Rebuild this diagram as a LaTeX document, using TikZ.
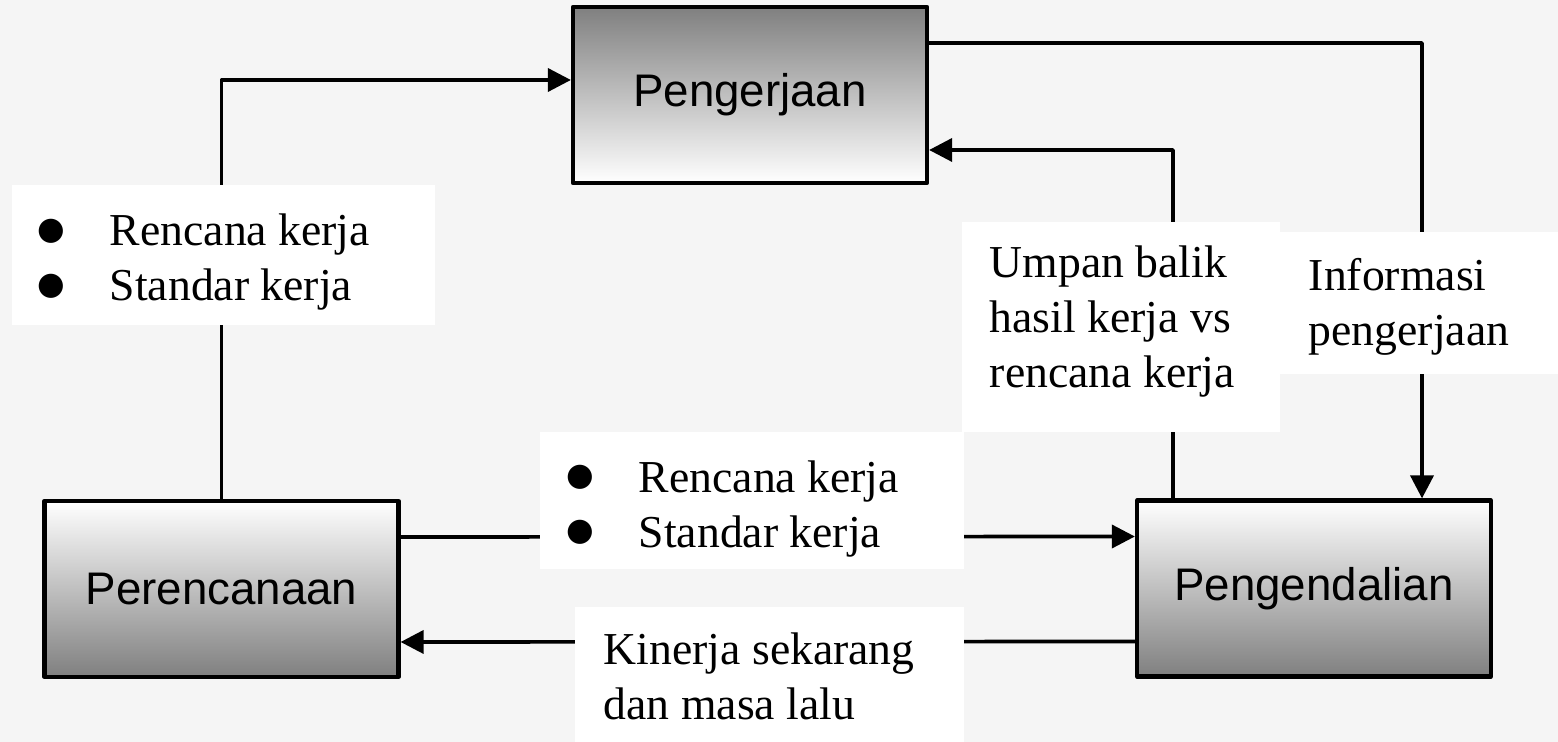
\documentclass[tikz,border=0pt]{standalone}
\usepackage{fontspec}
\setmainfont{Liberation Serif}
\newfontfamily\kotakfont{Liberation Sans}
\newfontfamily\simbolfont{DejaVu Sans}
\usetikzlibrary{arrows.meta}
\tikzset{
  kotak/.style={draw, line width=1.2pt, minimum width=3.54cm, minimum height=1.76cm,
    font=\kotakfont\fontsize{13pt}{15.65pt}\selectfont},
  putih/.style={fill=white, inner sep=0pt, anchor=north west},
  teks/.style={inner sep=0pt, anchor=north west, align=left,
    font=\fontsize{13pt}{15.65pt}\selectfont}
}
\newcommand{\butir}{\makebox[0.68cm][l]{\hspace{-0.4mm}\raisebox{1.8pt}{\simbolfont\fontsize{9pt}{9pt}\selectfont ●}}}
\begin{document}
\begin{tikzpicture}[>={Triangle[length=2.3mm,width=2.3mm]}, line width=1.05pt, line join=round]
\def\lebar{15.58} \def\tinggi{7.42} % ukuran gambar
\fill[black!4] (0,0) rectangle (\lebar,\tinggi);
\useasboundingbox (0,0) rectangle (\lebar,\tinggi);
% kotak utama
\node[kotak, top color=black!50, bottom color=white] (pengerjaan) at (7.50,6.47) {Pengerjaan};
\node[kotak, top color=white, bottom color=black!50] (perencanaan) at (2.215,1.53) {Perencanaan};
\node[kotak, top color=white, bottom color=black!50] (pengendalian) at (13.14,1.535) {Pengendalian};
% panah
\draw[->] (perencanaan.north) |- ([yshift=1.5mm]pengerjaan.west);
\draw[->] ([yshift=5.2mm]pengerjaan.east) -| ([xshift=10.8mm]pengendalian.north);
\draw[->] ([xshift=-14.1mm]pengendalian.north) |- ([yshift=-5.5mm]pengerjaan.east);
\draw[->] ([yshift=5.2mm]perencanaan.east) -- ([yshift=5.2mm]pengendalian.west);
\draw[->] ([yshift=-5.3mm]pengendalian.west) -- ([yshift=-5.3mm]perencanaan.east);
% keterangan
\node[putih, minimum width=4.23cm, minimum height=1.40cm] (ketA) at (0.10,5.59) {};
\node[putih, minimum width=4.24cm, minimum height=1.37cm] (ketB) at (5.38,3.12) {};
\node[putih, minimum width=3.89cm, minimum height=1.37cm] (ketC) at (5.73,1.37) {};
\node[putih, minimum width=2.80cm, minimum height=1.42cm] (ketE) at (12.78,5.12) {};
\node[putih, minimum width=3.18cm, minimum height=2.10cm] (ketD) at (9.60,5.22) {};
\node[teks] (teksA) at ([shift={(0.30,-0.29)}]ketA.north west) {\butir Rencana kerja\\\butir Standar kerja};
\node[teks] (teksB) at ([shift={(0.31,-0.286)}]ketB.north west) {\butir Rencana kerja\\\butir Standar kerja};
\node[teks] (teksC) at ([shift={(0.29,-0.256)}]ketC.north west) {Kinerja sekarang\\dan masa lalu};
\node[teks] (teksD) at ([shift={(0.28,-0.24)}]ketD.north west) {Umpan balik\\hasil kerja vs\\rencana kerja};
\node[teks] (teksE) at ([shift={(0.29,-0.266)}]ketE.north west) {Informasi\\pengerjaan};
\end{tikzpicture}
\end{document}
